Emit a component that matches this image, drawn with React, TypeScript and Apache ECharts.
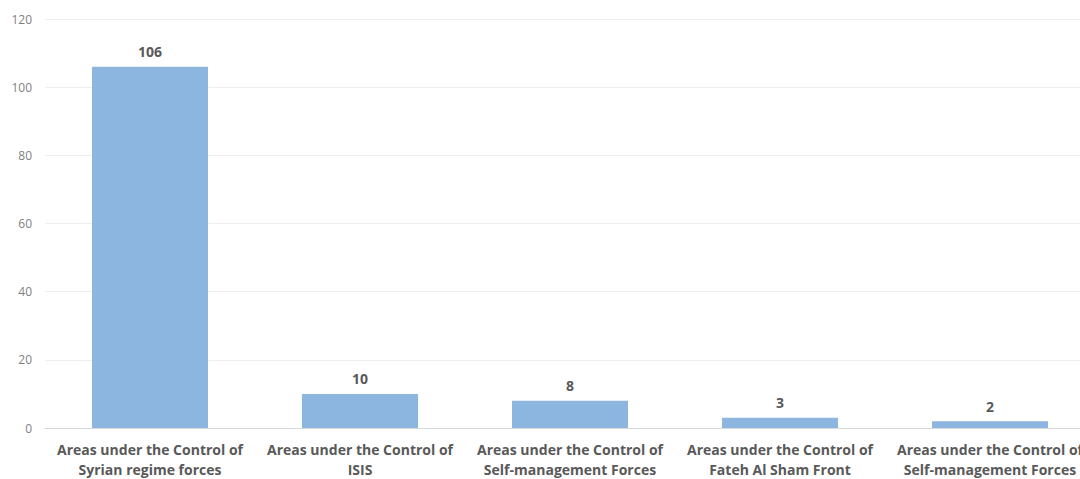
import React, { useEffect, useRef } from "react";
import * as echarts from "echarts";

const categories = [
  "Areas under the Control of\nSyrian regime forces",
  "Areas under the Control of\nISIS",
  "Areas under the Control of\nSelf-management Forces",
  "Areas under the Control of\nFateh Al Sham Front",
  "Areas under the Control of\nSelf-management Forces",
];
const values = [106, 10, 8, 3, 2];
const yTicks = { min: 0, max: 120, interval: 20 };

export default function App() {
  const ref = useRef<HTMLDivElement>(null);
  useEffect(() => {
    if (!ref.current) return;
    const chart = echarts.init(ref.current, null, { renderer: "svg" });
    chart.setOption({
      animation: false,
      grid: { left: 45, right: 15, top: 19, bottom: 49, containLabel: false },
      xAxis: {
        type: "category",
        data: categories,
        axisLine: { lineStyle: { color: "#d9d9d9", width: 1 } },
        axisTick: { show: false },
        axisLabel: {
          color: "#595959",
          fontFamily: "Open Sans",
          fontWeight: "bold",
          fontSize: 14,
          lineHeight: 20,
          margin: 11,
          interval: 0,
        },
      },
      yAxis: {
        type: "value",
        min: yTicks.min,
        max: yTicks.max,
        interval: yTicks.interval,
        axisLine: { show: false },
        axisTick: { show: false },
        splitLine: { lineStyle: { color: "#efefef", width: 1 } },
        axisLabel: {
          color: "#7f7f7f",
          fontFamily: "Open Sans",
          fontSize: 12,
          margin: 13,
        },
      },
      series: [
        {
          type: "bar",
          data: values,
          barWidth: 116,
          itemStyle: { color: "#8cb6e0" },
          label: {
            show: true,
            position: "top",
            distance: 8,
            color: "#595959",
            fontFamily: "Open Sans",
            fontWeight: "bold",
            fontSize: 14,
          },
        },
      ],
    });
    return () => chart.dispose();
  }, []);
  return (
    <div style={{ position: "fixed", left: 0, top: 0, width: 1080, height: 479, overflow: "hidden", background: "#fff" }}>
      <div ref={ref} style={{ width: 1110, height: 479 }} />
    </div>
  );
}
